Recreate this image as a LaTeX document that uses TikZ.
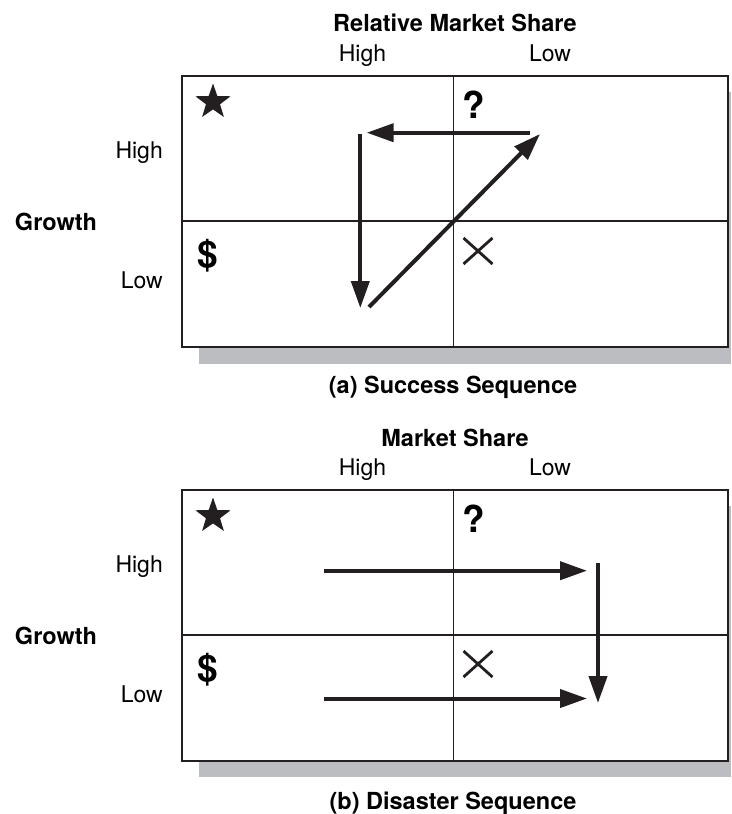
\documentclass[tikz,border=0pt]{standalone}
\usepackage{fontspec}
\setmainfont{TeX Gyre Heros}
\usetikzlibrary{arrows.meta,shapes.geometric}
\definecolor{shadowgray}{HTML}{BCBDC0}
\definecolor{linegray}{HTML}{231F20}
\begin{document}
\begin{tikzpicture}[x=1pt,y=-1pt,
  font=\fontsize{23}{27}\selectfont,
  lbl/.style={inner sep=0pt, anchor=base},
  lblright/.style={inner sep=0pt, anchor=base east},
  boldlbl/.style={inner sep=0pt, anchor=base, font=\fontsize{23.5}{28}\selectfont\bfseries},
  symb/.style={inner sep=0pt, font=\fontsize{37}{40}\selectfont\bfseries},
  frame/.style={draw=linegray, line width=2.2pt},
  divider/.style={draw=linegray, line width=1.5pt},
  shadowbox/.style={fill=shadowgray},
  flow/.style={draw=linegray, line width=4pt, -{Triangle[length=27pt,width=18pt]}},
  cross/.style={draw=linegray, line width=2.8pt},
  starmark/.style={star, star points=5, star point ratio=2.5, fill=linegray, inner sep=0pt, minimum size=37pt}]
\useasboundingbox (0,0) rectangle (731,814);

% ---------- (a) Success Sequence ----------
\node[boldlbl] (titleA) at (455,31.7) {Relative Market Share};
\node[lbl] (hiA) at (362.5,61) {High};
\node[lbl] (loA) at (550,61) {Low};
\node[lblright] (ghiA) at (163,158.3) {High};
\node[boldlbl] (growA) at (56,230) {Growth};
\node[lblright] (gloA) at (163,288.3) {Low};

\fill[shadowbox] (199,92) rectangle (731,364);
\fill[white] (182,76) rectangle (728,347.3);
\draw[divider] (453.3,76) -- (453.3,347.3);
\draw[divider] (182,221) -- (728,221);
\draw[frame] (182,76) rectangle (728,347.3);

\node[starmark] (starA) at (213,102) {};
\node[symb] (qA) at (474,105) {?};
\node[symb] (dA) at (208,256) {\$};
\coordinate (xA1) at (463.5,238);
\coordinate (xA2) at (492.5,264);
\coordinate (xA3) at (463.5,264);
\coordinate (xA4) at (492.5,238);
\draw[cross] (xA1) -- (xA2);
\draw[cross] (xA3) -- (xA4);

\coordinate (a1s) at (530,132.7);
\coordinate (a1e) at (366.7,132.7);
\coordinate (a2s) at (360.3,134);
\coordinate (a2e) at (360.3,308);
\coordinate (a3s) at (369,307);
\coordinate (a3e) at (540,134);
\draw[flow] (a1s) -- (a1e);
\draw[flow] (a2s) -- (a2e);
\draw[flow] (a3s) -- (a3e);

\node[boldlbl] (capA) at (453,393) {(a) Success Sequence};

% ---------- (b) Disaster Sequence ----------
\node[boldlbl] (titleB) at (455,446.5) {Market Share};
\node[lbl] (hiB) at (362.5,475) {High};
\node[lbl] (loB) at (550,475) {Low};
\node[lblright] (ghiB) at (163,572.3) {High};
\node[boldlbl] (growB) at (56,644) {Growth};
\node[lblright] (gloB) at (163,702.3) {Low};

\fill[shadowbox] (199,506) rectangle (731,777);
\fill[white] (182,490) rectangle (728,761);
\draw[divider] (453.3,490) -- (453.3,761);
\draw[divider] (182,635) -- (728,635);
\draw[frame] (182,490) rectangle (728,761);

\node[starmark] (starB) at (213,516) {};
\node[symb] (qB) at (474,519) {?};
\node[symb] (dB) at (208,670) {\$};
\coordinate (xB1) at (463.5,651);
\coordinate (xB2) at (492.5,677);
\coordinate (xB3) at (463.5,677);
\coordinate (xB4) at (492.5,651);
\draw[cross] (xB1) -- (xB2);
\draw[cross] (xB3) -- (xB4);

\coordinate (b1s) at (324,570.7);
\coordinate (b1e) at (587,570.7);
\coordinate (b2s) at (598,563);
\coordinate (b2e) at (598,703);
\coordinate (b3s) at (324,698.5);
\coordinate (b3e) at (587,698.5);
\draw[flow] (b1s) -- (b1e);
\draw[flow] (b2s) -- (b2e);
\draw[flow] (b3s) -- (b3e);

\node[boldlbl] (capB) at (453,809) {(b) Disaster Sequence};
\end{tikzpicture}
\end{document}
